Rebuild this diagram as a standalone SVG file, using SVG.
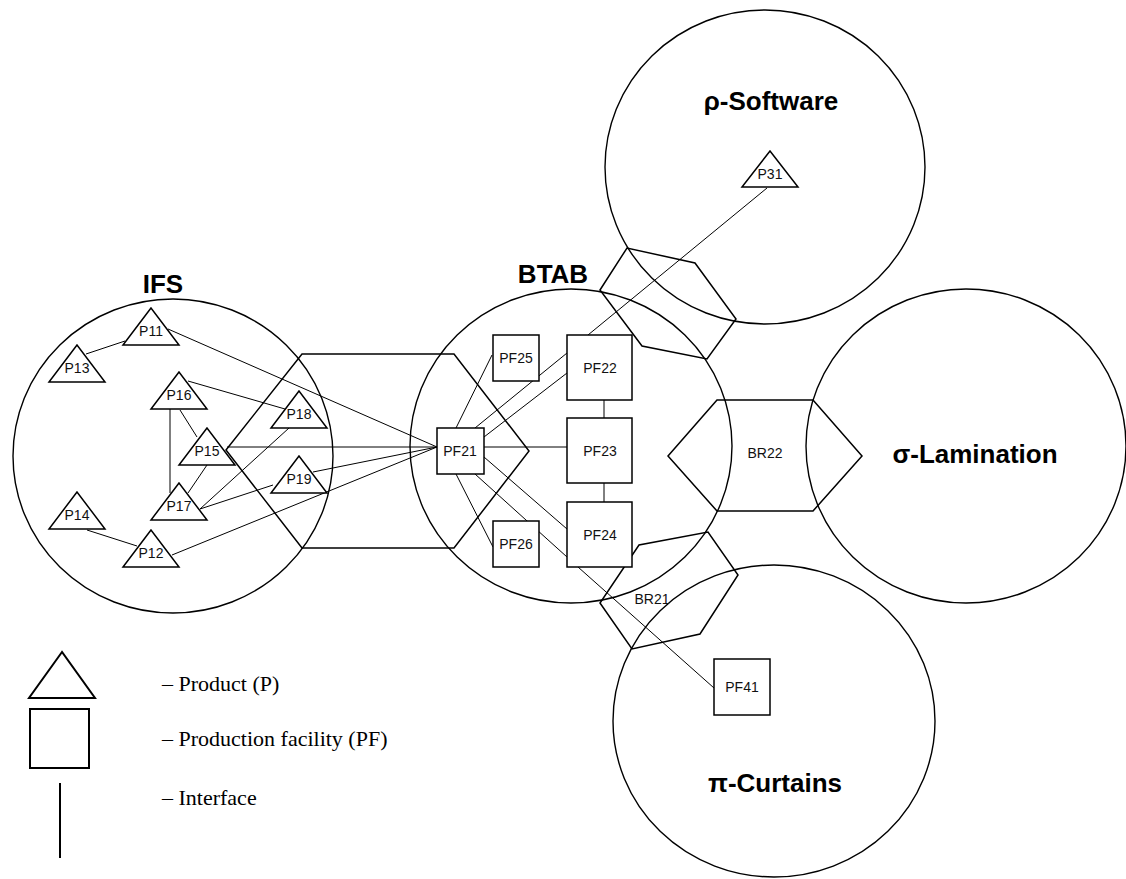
<svg xmlns="http://www.w3.org/2000/svg" width="1126" height="879" viewBox="0 0 1126 879">
<style>
.org{fill:none;stroke:#000;stroke-width:1.4}
.br{fill:none;stroke:#000;stroke-width:1.5;stroke-linejoin:miter}
.ln{stroke:#000;stroke-width:1;fill:none}
.tri{fill:#fff;stroke:#000;stroke-width:1.5}
.box{fill:#fff;stroke:#000;stroke-width:1.5}
.lbl{font-family:"Liberation Sans",Arial,sans-serif;font-size:14px;text-anchor:middle;fill:#111}
.big{font-family:"Liberation Sans",Arial,sans-serif;font-size:26px;font-weight:bold;text-anchor:middle;fill:#000}
.leg{font-family:"Liberation Serif","Times New Roman",serif;font-size:22px;fill:#000}
</style>
<rect width="1126" height="879" fill="#fff"/>

<g id="organisations">
  <g id="IFS"><ellipse class="org" cx="173" cy="456" rx="160" ry="157"/><text class="big" x="163" y="293">IFS</text></g>
  <g id="BTAB"><ellipse class="org" cx="571" cy="446" rx="161" ry="157"/><text class="big" x="553" y="283">BTAB</text></g>
  <g id="rho-Software"><ellipse class="org" cx="765" cy="167" rx="160" ry="157"/><text class="big" x="771" y="110">ρ-Software</text></g>
  <g id="sigma-Lamination"><ellipse class="org" cx="966" cy="446" rx="160" ry="157"/><text class="big" x="975" y="463">σ-Lamination</text></g>
  <g id="pi-Curtains"><ellipse class="org" cx="774" cy="721" rx="161" ry="156"/><text class="big" x="775" y="792">π-Curtains</text></g>
</g>

<g id="bridges">
  <g id="BR-IFS-BTAB"><polygon class="br" points="226,450 302,354 454,354 529,451 454,548 302,548"/></g>
  <g id="BR-BTAB-rho"><polygon class="br" points="600,290 627,248 695,263 736,319 707,359 642,346"/></g>
  <g id="BR22"><polygon class="br" points="668,456 717,400 813,400 862,456 813,511 717,511"/><text class="lbl" x="765" y="458">BR22</text></g>
  <g id="BR21"><polygon class="br" points="600,603 632,649 700,634 738,575 708,532 639,545"/><text class="lbl" x="652" y="604">BR21</text></g>
</g>

<g id="connectors">
  <line class="ln" x1="86" y1="354" x2="125" y2="341"/>
  <line class="ln" x1="168" y1="329" x2="437" y2="447" stroke-width="1.3"/>
  <line class="ln" x1="188" y1="381" x2="285" y2="409"/>
  <line class="ln" x1="170" y1="409" x2="170" y2="493"/>
  <line class="ln" x1="180" y1="410" x2="197" y2="437"/>
  <line class="ln" x1="188" y1="493" x2="207" y2="465"/>
  <line class="ln" x1="200" y1="509" x2="289" y2="428"/>
  <line class="ln" x1="200" y1="509" x2="273" y2="485"/>
  <line class="ln" x1="227" y1="447" x2="437" y2="447"/>
  <line class="ln" x1="313" y1="472" x2="437" y2="447"/>
  <line class="ln" x1="172" y1="555" x2="437" y2="447"/>
  <line class="ln" x1="87" y1="530" x2="137" y2="546"/>
  <line class="ln" x1="456" y1="428" x2="492" y2="355"/>
  <line class="ln" x1="475" y1="428" x2="567" y2="353"/>
  <line class="ln" x1="484" y1="437" x2="567" y2="373"/>
  <line class="ln" x1="484" y1="447" x2="567" y2="447"/>
  <line class="ln" x1="456" y1="474" x2="493" y2="547"/>
  <line class="ln" x1="475" y1="474" x2="567" y2="557"/>
  <line class="ln" x1="484" y1="457" x2="567" y2="529"/>
  <line class="ln" x1="604" y1="400" x2="604" y2="418"/>
  <line class="ln" x1="604" y1="483" x2="604" y2="502"/>
  <line class="ln" x1="588" y1="335" x2="767" y2="188"/>
  <line class="ln" x1="578" y1="567" x2="714" y2="688"/>
</g>

<g id="nodes">
  <g id="P11"><polygon class="tri" points="151,308 123,345 179,345"/><text class="lbl" x="151" y="336">P11</text></g>
  <g id="P13"><polygon class="tri" points="77,345 49,382 105,382"/><text class="lbl" x="77" y="373">P13</text></g>
  <g id="P16"><polygon class="tri" points="179,372 151,409 207,409"/><text class="lbl" x="179" y="400">P16</text></g>
  <g id="P18"><polygon class="tri" points="299,391 271,428 327,428"/><text class="lbl" x="299" y="419">P18</text></g>
  <g id="P15"><polygon class="tri" points="207,428 179,465 235,465"/><text class="lbl" x="207" y="456">P15</text></g>
  <g id="P19"><polygon class="tri" points="299,456 271,493 327,493"/><text class="lbl" x="299" y="484">P19</text></g>
  <g id="P17"><polygon class="tri" points="179,483 151,520 207,520"/><text class="lbl" x="179" y="511">P17</text></g>
  <g id="P14"><polygon class="tri" points="77,492 49,529 105,529"/><text class="lbl" x="77" y="520">P14</text></g>
  <g id="P12"><polygon class="tri" points="151,530 123,567 179,567"/><text class="lbl" x="151" y="558">P12</text></g>
  <g id="P31"><polygon class="tri" points="770,151 742,187 798,187"/><text class="lbl" x="770" y="179">P31</text></g>
  <g id="PF21"><rect class="box" x="437" y="428" width="47" height="46"/><text class="lbl" x="460" y="456">PF21</text></g>
  <g id="PF25"><rect class="box" x="493" y="335" width="46" height="46"/><text class="lbl" x="516" y="363">PF25</text></g>
  <g id="PF26"><rect class="box" x="493" y="521" width="46" height="46"/><text class="lbl" x="516" y="549">PF26</text></g>
  <g id="PF22"><rect class="box" x="567" y="335" width="65" height="65"/><text class="lbl" x="600" y="373">PF22</text></g>
  <g id="PF23"><rect class="box" x="567" y="418" width="65" height="65"/><text class="lbl" x="600" y="456">PF23</text></g>
  <g id="PF24"><rect class="box" x="567" y="502" width="65" height="65"/><text class="lbl" x="600" y="540">PF24</text></g>
  <g id="PF41"><rect class="box" x="714" y="659" width="56" height="56"/><text class="lbl" x="742" y="692">PF41</text></g>
</g>

<g id="legend">
  <polygon points="62,652 29,698 95,698" fill="none" stroke="#000" stroke-width="2"/>
  <rect x="30" y="709" width="59" height="59" fill="none" stroke="#000" stroke-width="2"/>
  <line x1="60" y1="783" x2="60" y2="858" stroke="#000" stroke-width="2"/>
  <text class="leg" x="162" y="691">– Product (P)</text>
  <text class="leg" x="162" y="746">– Production facility (PF)</text>
  <text class="leg" x="162" y="805">– Interface</text>
</g>
</svg>
